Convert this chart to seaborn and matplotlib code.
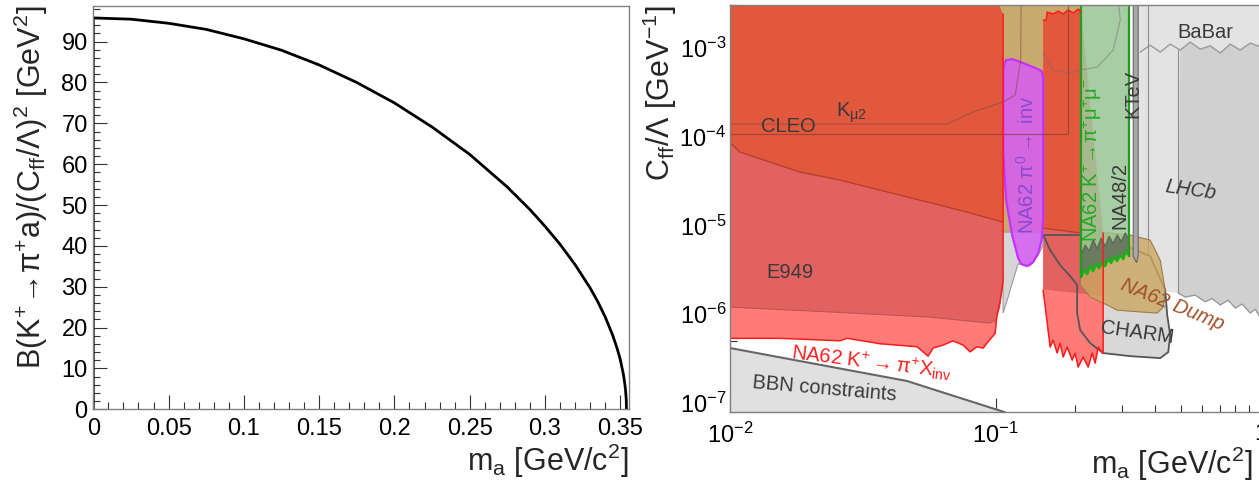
import matplotlib
matplotlib.use("Agg")
import matplotlib.pyplot as plt
from matplotlib.ticker import FixedLocator, FixedFormatter, MultipleLocator, LogLocator, NullFormatter
import seaborn as sns

# ---- left panel: B(K+ -> pi+ a)/(Cff/Lambda)^2 vs m_a ----
ma_left = [0, 0, 0.025, 0.05, 0.075, 0.1, 0.125, 0.15, 0.175, 0.2, 0.225, 0.25, 0.275,
           0.29, 0.3, 0.31, 0.32, 0.33, 0.335, 0.34, 0.345, 0.348, 0.35, 0.352, 0.353,
           0.3535, 0.354, 0.3541]
br_left = [0, 95.8, 95.5, 94.5, 93.0, 90.7, 87.9, 84.3, 80.0, 75.0, 69.1, 62.4, 54.4,
           48.9, 44.8, 40.4, 35.4, 29.7, 26.4, 22.6, 18.1, 14.8, 12.2, 8.7, 6.3,
           4.7, 2.2, 0]
left_xticks = [0, 0.05, 0.1, 0.15, 0.2, 0.25, 0.3, 0.35]
left_xticklabels = ["0", "0.05", "0.1", "0.15", "0.2", "0.25", "0.3", "0.35"]

# ---- right panel: exclusion regions in (m_a [GeV], Cff/Lambda [1/GeV]) ----
bbn_m = [0.01, 0.0463, 0.108, 0.13]
bbn_c = [4.15e-7, 1.77e-7, 7.9e-8, 5.5e-8]

na62_lo_m = [0.01, 0.01537, 0.02589, 0.02757, 0.03665, 0.05057, 0.05563, 0.0581, 0.06334,
             0.0691, 0.0754, 0.0801, 0.0851, 0.0897, 0.0937, 0.0996, 0.1010, 0.1040,
             0.1055, 0.1067]
na62_lo_c = [5.35e-7, 5.35e-7, 5.02e-7, 5.35e-7, 4.65e-7, 4.30e-7, 3.37e-7, 4.15e-7, 4.49e-7,
             5.0e-7, 4.49e-7, 3.77e-7, 4.30e-7, 4.15e-7, 4.90e-7, 6.08e-7, 9.35e-7, 1.44e-6,
             1.87e-6, 2.4e-6]
corner_m = [0.1067, 0.1040, 0.1005, 0.01]
corner_c = [2.34e-3, 2.8e-3, 3.5e-3, 3.5e-3]

e949_lo_m = [0.01, 0.02374, 0.0566, 0.0953, 0.100, 0.1035, 0.1060, 0.1067]
e949_lo_c = [1.20e-6, 1.06e-6, 9.27e-7, 7.94e-7, 8.6e-7, 1.2e-6, 2.0e-6, 3.0e-6]

top_lo_m = [0.01, 0.01085, 0.0183, 0.02589, 0.0436, 0.0617, 0.0801, 0.1067]
top_lo_c = [8.45e-5, 6.69e-5, 3.98e-5, 3.24e-5, 2.19e-5, 1.69e-5, 1.38e-5, 1.09e-5]

na62r_top_m = [0.1511, 0.1551, 0.1565, 0.1650, 0.1721, 0.1798, 0.1877, 0.1962, 0.2048, 0.2102]
na62r_top_c = [2.05e-3, 2.05e-3, 2.52e-3, 2.40e-3, 2.59e-3, 2.40e-3, 2.66e-3, 2.46e-3, 2.73e-3, 2.52e-3]
na62r_lo_m = [0.1511, 0.1606, 0.1648, 0.1707, 0.1751, 0.1798, 0.1861, 0.1944, 0.1995, 0.2048,
              0.2139, 0.2234, 0.2313, 0.2374, 0.2437, 0.2523, 0.2544, 0.2544]
na62r_lo_c = [1.87e-6, 4.26e-7, 5.11e-7, 3.65e-7, 4.73e-7, 3.29e-7, 4.26e-7, 3.04e-7, 3.65e-7, 2.54e-7,
              3.29e-7, 2.54e-7, 3.65e-7, 2.81e-7, 4.26e-7, 3.65e-7, 3.65e-7, 8.2e-6]
e949r_m = [0.1511, 0.2544, 0.2544, 0.1511]
e949r_c = [9.4e-6, 7.9e-6, 1.6e-6, 1.9e-6]
topr_lo_m = [0.1511, 0.2102]
topr_lo_c = [9.33e-6, 8.19e-6]

tan_m = [0.1005, 0.2102, 0.2102, 0.1005]
tan_c = [3.5e-3, 3.5e-3, 8.4e-6, 8.4e-6]

tongue_m = [0.1067, 0.1511, 0.1511, 0.1447, 0.1350, 0.1216, 0.1164, 0.1115, 0.1067]
tongue_c = [8.4e-6, 8.4e-6, 6.0e-6, 4.6e-6, 3.5e-6, 3.7e-6, 2.42e-6, 1.56e-6, 1.03e-6]

charm_m = [0.1511, 0.1606, 0.1751, 0.1911, 0.2030, 0.2030, 0.2084, 0.2273, 0.2544, 0.3218,
           0.4176, 0.4477, 0.4555, 0.4438, 0.4362, 0.3828, 0.2478]
charm_c = [7.78e-6, 5.27e-6, 3.57e-6, 2.69e-6, 2.13e-6, 1.03e-6, 6.62e-7, 4.73e-7, 3.65e-7, 3.37e-7,
           3.20e-7, 3.74e-7, 5.82e-7, 9.77e-7, 1.87e-6, 4.5e-6, 7.8e-6]

dump_m = [0.2084, 0.2478, 0.3218, 0.3828, 0.4176, 0.4362, 0.4287, 0.4068, 0.3510, 0.2874,
          0.2635, 0.2273, 0.2084]
dump_c = [9.33e-6, 8.41e-6, 7.78e-6, 6.83e-6, 4.06e-6, 1.87e-6, 1.20e-6, 1.03e-6, 1.06e-6, 1.11e-6,
          1.27e-6, 1.56e-6, 2.13e-6]

pi0_m = [0.1095, 0.1154, 0.1243, 0.1415, 0.1492, 0.1511, 0.1511, 0.1492, 0.1447, 0.1385,
         0.1315, 0.1248, 0.1216, 0.1154, 0.1095, 0.1067, 0.1067, 0.1077]
pi0_c = [7.27e-4, 7.46e-4, 6.90e-4, 5.90e-4, 5.47e-4, 4.68e-4, 1.24e-5, 6.83e-6, 4.87e-6, 3.86e-6,
         3.48e-6, 3.67e-6, 4.29e-6, 7.78e-6, 1.93e-5, 7.05e-5, 5.19e-4, 6.55e-4]

green_lo_m = [0.2102, 0.2158, 0.2214, 0.2273, 0.2333, 0.2394, 0.2458, 0.2523, 0.2589, 0.2657,
              0.2728, 0.2800, 0.2874, 0.2950, 0.3028, 0.3108, 0.3190]
green_lo_c = [2.62e-6, 3.14e-6, 2.83e-6, 3.48e-6, 3.06e-6, 3.67e-6, 3.30e-6, 3.86e-6, 3.48e-6, 4.18e-6,
              3.77e-6, 4.40e-6, 3.96e-6, 4.63e-6, 4.18e-6, 5.13e-6, 4.52e-6]
na48_m = [0.2102, 0.2177, 0.2253, 0.2333, 0.2415, 0.2501, 0.2589, 0.2681, 0.2776, 0.2874,
          0.2976, 0.3081, 0.3190]
na48_c = [4.63e-6, 6.0e-6, 5.13e-6, 6.83e-6, 5.47e-6, 7.18e-6, 5.79e-6, 7.54e-6, 6.21e-6, 7.78e-6,
          6.58e-6, 8.19e-6, 6.83e-6]

ktev_m = [0.3303, 0.3449, 0.3449, 0.3400, 0.3303]
ktev_c = [3.5e-3, 3.5e-3, 4.5e-6, 3.8e-6, 4.5e-6]

lhcb_lo_m = [0.4884, 0.5189, 0.5658, 0.6173, 0.6561, 0.7034, 0.7543, 0.8013, 0.8515, 0.9128, 0.9533, 1.0, 1.05]
lhcb_lo_c = [1.73e-6, 1.56e-6, 1.64e-6, 1.38e-6, 1.50e-6, 1.27e-6, 1.44e-6, 1.17e-6, 1.30e-6, 1.03e-6, 1.14e-6, 9.0e-7, 8.5e-7]
babar_m = [0.3510, 0.3828, 0.4176, 0.4555, 0.4968, 0.5420, 0.5910, 0.6447, 0.7034, 0.7672, 0.8366, 0.9128, 1.0, 1.05]
babar_c = [8.94e-4, 1.07e-3, 8.94e-4, 1.10e-3, 9.42e-4, 1.16e-3, 9.66e-4, 1.05e-3, 8.72e-4, 1.10e-3, 9.42e-4, 1.13e-3, 1.02e-3, 1.0e-3]

cleo_m = [0.01, 0.1877, 0.1877]
cleo_c = [1.07e-4, 1.07e-4, 3.5e-3]
kmu2_m = [0.01, 0.0654, 0.0822, 0.1067, 0.1185, 0.1243, 0.1248]
kmu2_c = [1.38e-4, 1.38e-4, 1.89e-4, 2.45e-4, 2.93e-4, 7.27e-4, 3.5e-3]
misc_m = [0.1511, 0.1648, 0.1911, 0.2102, 0.2415, 0.2776, 0.2950, 0.2901]
misc_c = [8.72e-4, 5.61e-4, 5.19e-4, 5.61e-4, 6.06e-4, 9.42e-4, 2.05e-3, 3.5e-3]

sns.set_theme(style="ticks")
plt.rcParams["font.family"] = ["Liberation Sans", "DejaVu Sans"]
plt.rcParams["mathtext.fontset"] = "custom"
plt.rcParams["mathtext.rm"] = "Liberation Sans"
plt.rcParams["mathtext.it"] = "Liberation Sans:italic"
plt.rcParams["mathtext.sf"] = "Liberation Sans"
plt.rcParams["mathtext.default"] = "regular"

fig = plt.figure(figsize=(12.59, 4.83), dpi=100)
ax1 = fig.add_axes([0.0741, 0.1526, 0.4255, 0.8356])
ax2 = fig.add_axes([0.5802, 0.147, 0.4212, 0.8426])

# left panel
sns.lineplot(x=ma_left, y=br_left, ax=ax1, sort=False, estimator=None, color="black", lw=2)
ax1.set_xlim(0, 0.3558)
ax1.set_ylim(0, 98.8)
ax1.xaxis.set_major_locator(FixedLocator(left_xticks))
ax1.xaxis.set_major_formatter(FixedFormatter(left_xticklabels))
ax1.xaxis.set_minor_locator(MultipleLocator(0.01))
ax1.yaxis.set_major_locator(MultipleLocator(10))
ax1.yaxis.set_minor_locator(MultipleLocator(2))
ax1.set_xlabel(r"m$_{\mathrm{a}}$ [GeV/c$^{2}$]", fontsize=22, loc="right")
ax1.set_ylabel(r"B(K$^{+}\!\rightarrow\!\pi^{+}$a)/(C$_{\mathrm{ff}}$/$\Lambda$)$^{2}$ [GeV$^{2}$]",
               fontsize=22, loc="top")
ax1.xaxis.set_label_coords(1.0, -0.08)
ax1.yaxis.set_label_coords(-0.08, 1.0)

# right panel
ax2.set_xscale("log")
ax2.set_yscale("log")
ax2.set_xlim(0.01, 1.0)
ax2.set_ylim(7.92e-8, 3.03e-3)

bg_m = [0.3449, 0.3449] + lhcb_lo_m + [1.05]
bg_c = [3.5e-3, 2.0e-6] + lhcb_lo_c + [3.5e-3]
ax2.fill(bg_m, bg_c, color="#e3e3e3", lw=0, zorder=1)
ax2.fill(babar_m[4:] + lhcb_lo_m[::-1], babar_c[4:] + lhcb_lo_c[::-1], color="#d0d0d0", lw=0, zorder=1.1)
ax2.plot(babar_m, babar_c, color="#9a9a9a", lw=1, zorder=1.2)
ax2.plot(lhcb_lo_m, lhcb_lo_c, color="#9a9a9a", lw=1, zorder=1.2)
ax2.plot([0.3762, 0.3762], [3.5e-3, 2.0e-6], color="#8c8c8c", lw=0.8, zorder=1.2)
ax2.plot([0.4884, 0.4884], [9.5e-4, 1.73e-6], color="#8c8c8c", lw=0.8, zorder=1.2)

ax2.fill_between(bbn_m, bbn_c, 1e-9, color="#e0e0e0", lw=0, zorder=1)
sns.lineplot(x=bbn_m, y=bbn_c, ax=ax2, sort=False, estimator=None, color="#666666", lw=1.5, zorder=1.5)

ax2.fill(tan_m, tan_c, color="#c9aa6e", lw=0, zorder=2)
# CHARM fill sits under the kaon limits, its outline on top
ax2.fill(charm_m, charm_c, fc="#d8d8d8", lw=0, zorder=2.5)

# NA62 K+ -> pi+ X_inv
ax2.fill(na62_lo_m + corner_m, na62_lo_c + corner_c, color="#fe7b78", lw=0, zorder=3)
ax2.fill(na62r_top_m + na62r_lo_m[::-1], na62r_top_c + na62r_lo_c[::-1], color="#fe7b78", lw=0, zorder=3)
# E949
ax2.fill(e949_lo_m + corner_m, e949_lo_c + corner_c, color="#e26262", lw=0, zorder=4)
ax2.fill(e949r_m, e949r_c, color="#e26262", lw=0, zorder=4)
ax2.plot(e949_lo_m, e949_lo_c, color="#c45252", lw=0.8, zorder=4.1)
# CLEO / Kmu2 upper part
ax2.fill(top_lo_m + corner_m, top_lo_c + corner_c, color="#e1583d", lw=0, zorder=5)
ax2.fill(na62r_top_m + topr_lo_m[::-1], na62r_top_c + topr_lo_c[::-1], color="#e1583d", lw=0, zorder=5)
ax2.plot(top_lo_m, top_lo_c, color="#b8402c", lw=1, zorder=5.1)
ax2.plot(topr_lo_m, topr_lo_c, color="#b8402c", lw=1, zorder=5.1)

ax2.fill(tongue_m, tongue_c, color="#d6d6d6", ec="#9a9a9a", lw=0.8, zorder=5.5)

ax2.fill(charm_m, charm_c, fc="none", ec="#555555", lw=1.3, zorder=6)
ax2.fill(dump_m, dump_c, fc=(0.80, 0.65, 0.38, 0.8), ec="#9c7c45", lw=0.8, zorder=6.5)

# NA62 K+ -> pi+ mu mu and NA48/2
green_m = [0.2102] + green_lo_m + [0.3190]
green_c = [3.5e-3] + green_lo_c + [3.5e-3]
ax2.fill(green_m, green_c, fc=(0.60, 0.77, 0.58, 0.85), lw=0, zorder=7)
ax2.fill(na48_m + green_lo_m[::-1], na48_c + green_lo_c[::-1], color="#6a7b60", lw=0, zorder=7.1)
ax2.plot(na48_m, na48_c, color="#5d6a58", lw=1, zorder=7.2)
ax2.plot(green_lo_m, green_lo_c, color="#18b418", lw=1.8, zorder=7.3)
ax2.plot([0.2102, 0.2102], [3.5e-3, 2.62e-6], color="#1f9e1f", lw=1.6, zorder=7.3)
ax2.plot([0.3190, 0.3190], [3.5e-3, 4.52e-6], color="#1f9e1f", lw=1.6, zorder=7.3)
ax2.fill(ktev_m, ktev_c, fc="#a8a8a8", ec="#666666", lw=0.8, zorder=7.4)

# NA62 pi0 -> inv
ax2.fill(pi0_m, pi0_c, fc=(0.84, 0.36, 0.96, 0.85), ec="#c433ff", lw=1.6, zorder=8)

# thin outlines of other limits
ax2.plot(cleo_m, cleo_c, color="#7a3a30", lw=0.9, alpha=0.6, zorder=8.5)
ax2.plot(kmu2_m, kmu2_c, color="#7a4a40", lw=0.9, alpha=0.5, zorder=8.5)
ax2.plot(misc_m, misc_c, color="#707070", lw=0.9, alpha=0.45, zorder=8.5)

# NA62 K+ -> pi+ X_inv red outlines
ax2.plot(na62_lo_m + [0.1067, 0.1067], na62_lo_c + [2.34e-3, 2.4e-3], color="#ff1a1a", lw=1.1, zorder=9)
ax2.plot(na62r_lo_m, na62r_lo_c, color="#ff1a1a", lw=1.1, zorder=9)
ax2.plot(na62r_top_m, na62r_top_c, color="#ff1a1a", lw=1.1, zorder=9)

fs = 14.5
lab = dict(color="#3a3a3a", fontsize=fs, ha="center", va="center", zorder=10)
ax2.text(0.617, 1.50e-3, "BaBar", **lab)
ax2.text(0.0165, 1.30e-4, "CLEO", **lab)
ax2.text(0.0287, 1.85e-4, r"K$_{\mu2}$", **lab)
ax2.text(0.0168, 2.98e-6, "E949", **lab)
ax2.text(0.0227, 1.44e-7, "BBN constraints", rotation=-5, **lab)
ax2.text(0.3303, 3.01e-4, "KTeV", rotation=90, **lab)
ax2.text(0.2950, 2.19e-5, "NA48/2", rotation=90, **lab)
ax2.text(0.542, 2.50e-5, "LHCb", rotation=-8, style="italic", **lab)
ax2.text(0.342, 6.12e-7, "CHARM", rotation=-8, **lab)
ax2.text(0.0342, 2.88e-7, r"NA62 K$^{+}\rightarrow\pi^{+}$X$_{\mathrm{inv}}$", rotation=-7,
         color="#ff2020", fontsize=fs, ha="center", va="center", zorder=10)
ax2.text(0.1315, 4.78e-5, r"NA62 $\pi^{0}\rightarrow$ inv", rotation=90,
         color="#8a4ad0", fontsize=fs, ha="center", va="center", zorder=10)
ax2.text(0.2313, 5.43e-5, r"NA62 K$^{+}\!\rightarrow\!\pi^{+}\mu^{+}\mu^{-}$", rotation=90,
         color="#22aa22", fontsize=fs, ha="center", va="center", zorder=10)
ax2.text(0.4638, 1.27e-6, "NA62 Dump", rotation=-22, style="italic",
         color="#a0522d", fontsize=fs, ha="center", va="center", zorder=10)

ax2.xaxis.set_major_locator(FixedLocator([0.01, 0.1, 1.0]))
ax2.xaxis.set_major_formatter(FixedFormatter([r"$10^{-2}$", r"$10^{-1}$", "1"]))
ax2.xaxis.set_minor_locator(LogLocator(base=10, subs=range(2, 10)))
ax2.xaxis.set_minor_formatter(NullFormatter())
ax2.yaxis.set_major_locator(FixedLocator([1e-7, 1e-6, 1e-5, 1e-4, 1e-3]))
ax2.yaxis.set_major_formatter(FixedFormatter([r"$10^{-7}$", r"$10^{-6}$", r"$10^{-5}$",
                                              r"$10^{-4}$", r"$10^{-3}$"]))
ax2.yaxis.set_minor_locator(LogLocator(base=10, subs=range(2, 10)))
ax2.yaxis.set_minor_formatter(NullFormatter())
ax2.set_xlabel(r"m$_{\mathrm{a}}$ [GeV/c$^{2}$]", fontsize=22, loc="right")
ax2.set_ylabel(r"C$_{\mathrm{ff}}$/$\Lambda$ [GeV$^{-1}$]", fontsize=22, loc="top")
ax2.xaxis.set_label_coords(0.985, -0.08)
ax2.yaxis.set_label_coords(-0.097, 1.0)

for ax in (ax1, ax2):
    ax.tick_params(which="both", direction="in", top=False, right=False, colors="#333333",
                   labelcolor="black", width=0.8)
    ax.tick_params(which="major", length=10, labelsize=17, pad=4)
    ax.tick_params(which="minor", length=5)
    for sp in ax.spines.values():
        sp.set_color("#808080")
        sp.set_linewidth(1)
        sp.set_zorder(11)
ax1.tick_params(axis="x", which="major", pad=6.5)
ax2.tick_params(axis="x", which="major", pad=8)
ax2.tick_params(axis="y", which="major", pad=3)

fig.savefig("out.png", dpi=100)
